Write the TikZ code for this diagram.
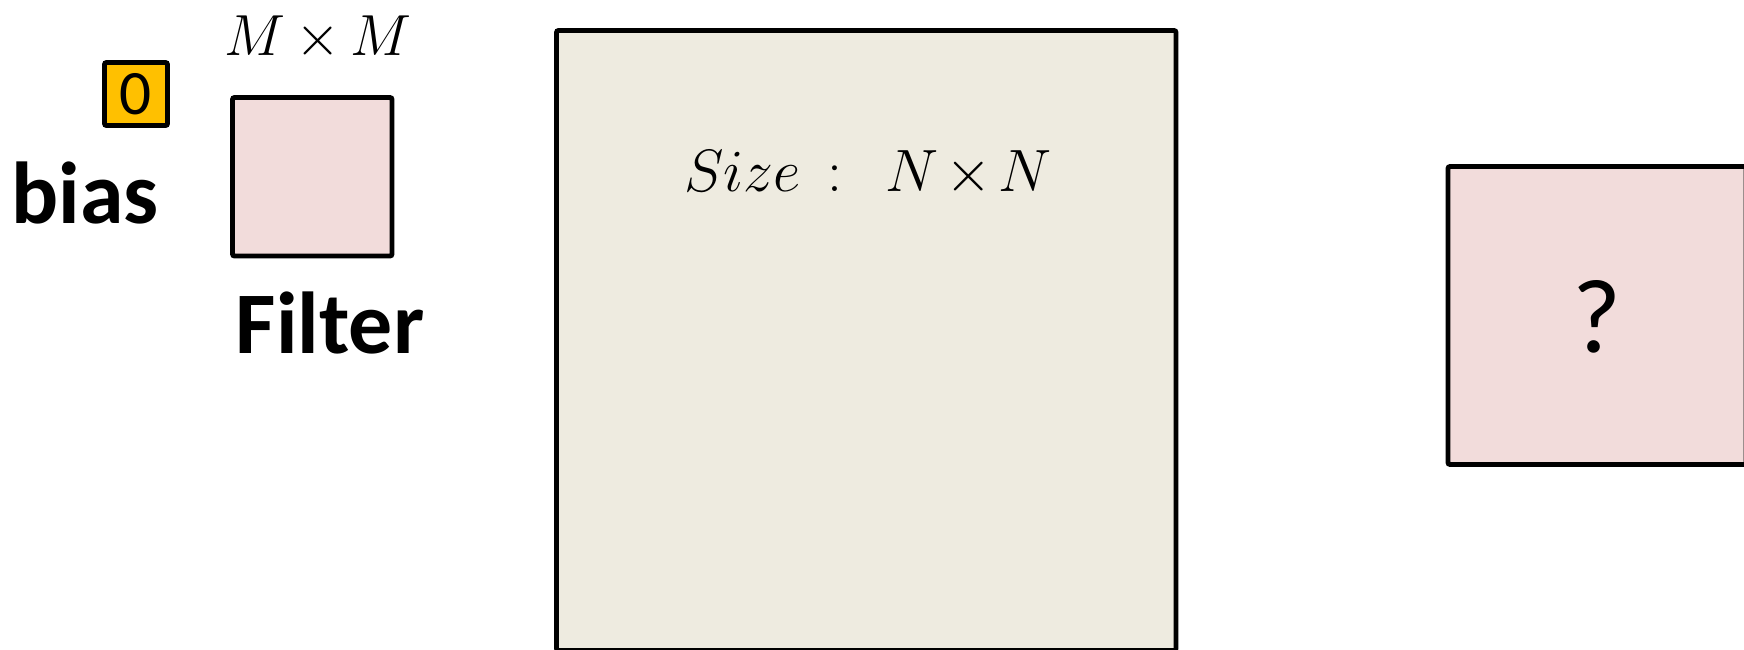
\RequirePackage{fix-cm}
\documentclass[tikz,border=0pt]{standalone}
\usepackage{amsmath}
\usepackage{fontspec}
\setmainfont{Carlito}
\usepackage{tikz}
\usetikzlibrary{calc}

\definecolor{biasfill}{HTML}{FFC000}
\definecolor{filterfill}{HTML}{F2DCDB}
\definecolor{inputfill}{HTML}{EEEBE0}

\begin{document}
\begin{tikzpicture}[
    x=1cm,
    y=1cm,
    box/.style={draw=black,line width=1.4pt,rounded corners=0.6pt,inner sep=0pt},
    label text/.style={inner sep=0pt,anchor=base,font=\fontsize{25}{30}\bfseries\selectfont},
    every node/.style={font=\normalsize}
]

%------------------------------------------------------------
% Page
%------------------------------------------------------------

\useasboundingbox (0,0) rectangle (17.44,-6.49);
\clip (0,0) rectangle (17.44,-6.49);

%------------------------------------------------------------
% Bias and filter
%------------------------------------------------------------

\node[
    box,
    fill=biasfill,
    minimum width=0.63cm,
    minimum height=0.63cm,
    font=\fontsize{18}{22}\selectfont
]
(bias) at (1.36,-0.94)
{0};

\node[label text]
(biaslabel) at (0.85,-2.23)
{bias};

\node[
    box,
    fill=filterfill,
    minimum width=1.595cm,
    minimum height=1.585cm
]
(filter) at (3.1225,-1.7675)
{};

\node[inner sep=0pt,anchor=base,font=\fontsize{16.5}{20}\selectfont]
(filtersize) at (3.18,-0.55)
{$M\mskip3mu{\times}\mskip3mu M$};

\node[label text]
(filterlabel) at (3.30,-3.53)
{Filter};

%------------------------------------------------------------
% Input
%------------------------------------------------------------

\node[
    box,
    fill=inputfill,
    minimum width=6.195cm,
    minimum height=6.2cm
]
(input) at (8.6625,-3.405)
{};

\node[inner sep=0pt,anchor=base,font=\fontsize{17}{20}\selectfont]
(inputsize) at (8.68,-1.91)
{$Size \,:\;\, N\mskip2mu{\times}\mskip2mu N$};

%------------------------------------------------------------
% Output
%------------------------------------------------------------

\node[
    box,
    fill=filterfill,
    minimum width=2.98cm,
    minimum height=2.98cm
]
(output) at (15.97,-3.155)
{};

\node[inner sep=0pt,anchor=base,font=\fontsize{30}{36}\selectfont]
(outputmark) at (15.97,-3.52)
{?};

\end{tikzpicture}
\end{document}
